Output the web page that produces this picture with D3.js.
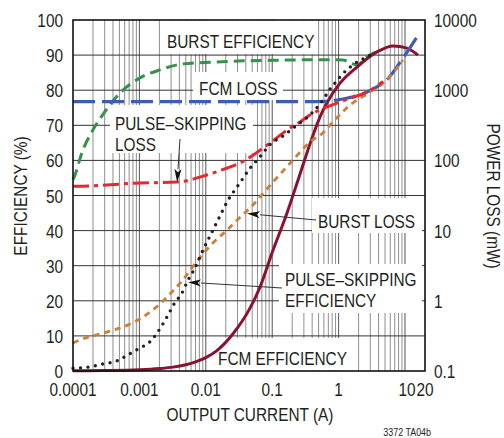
<!DOCTYPE html>
<html><head><meta charset="utf-8">
<script src="https://cdn.jsdelivr.net/npm/d3@7"></script>
<style>
html,body{margin:0;padding:0;background:#fff;}
svg text{font-family:"Liberation Sans",Arial,sans-serif;fill:#231f20;}
</style></head>
<body><svg id="c" width="504" height="438"></svg>
<script>
// ---- data ----
const xTicks = [0.0001, 0.001, 0.01, 0.1, 1, 10, 20];
const xTickLabels = ["0.0001", "0.001", "0.01", "0.1", "1", "10", "20"];
const effTicks = [0, 10, 20, 30, 40, 50, 60, 70, 80, 90, 100];
const lossTicks = [0.1, 1, 10, 100, 1000, 10000];
const lossTickLabels = ["0.1", "1", "10", "100", "1000", "10000"];

// efficiency (%) vs output current (A)
const burstEfficiency = [[1e-4,54.5],[1.07e-4,55.8],[1.35e-4,62],[2e-4,68.7],[3e-4,73.8],[5.1e-4,79.2],[1.02e-3,83.5],[2.04e-3,85.8],[4.5e-3,87.5],[0.0128,88],[0.03,88.3],[0.1,88.5],[0.5,88.7],[1.17,88.6],[1.5,87.8],[1.9,87.2],[2.68,89.5],[3.8,91]];
const psEfficiency = [[1e-4,0.8],[1.68e-4,1.1],[2.83e-4,2.0],[4.6e-4,2.9],[6.7e-4,4.6],[1.02e-3,6.55],[1.44e-3,8.3],[1.84e-3,10.8],[2.6e-3,15.4],[3.4e-3,19.4],[4.37e-3,22.2],[5.4e-3,25.9],[6.85e-3,29.3],[9.1e-3,34.5],[0.0124,39.6],[0.0175,45.3],[0.0208,48.1],[0.0327,53.6],[0.0464,57.8],[0.0654,61],[0.0925,64.5],[0.146,67],[0.262,70.7],[0.345,72.4],[0.44,74.4],[0.58,77.2],[0.73,80.1],[0.88,82],[1.05,83.8],[1.64,87.2],[2.68,89.5],[3.3,90.4]];
const fcmEfficiency = [[1e-4,0.05],[3e-4,0.12],[1e-3,0.35],[2e-3,0.7],[3.2e-3,1.1],[5e-3,1.8],[7e-3,2.6],[0.01,3.8],[0.0147,5.8],[0.0257,10.6],[0.0463,17.9],[0.0655,23.9],[0.0993,33.6],[0.167,45],[0.245,54.4],[0.398,66.4],[0.525,72.4],[0.668,76.4],[1.05,82],[1.89,86.6],[3.79,90.9],[6.6,92.6],[10.7,92],[15.7,90]];

// power loss (mW) vs output current (A)
const fcmLoss = [[1e-4,686],[0.3,686],[0.7,695],[0.94,725],[1.6,800],[2.68,942],[4,1150],[5.3,1400],[8.3,2440],[11.8,3990],[15.1,5730]];
const psLoss = [[1e-4,43],[1.15e-4,43],[1.02e-3,47.6],[3.7e-3,49.3],[0.0104,62],[0.0209,78],[0.0327,92],[0.0925,177],[0.186,290],[0.262,352],[0.37,443],[0.62,560],[1.05,680],[1.5,770],[2.68,940],[4.67,1330]];
const burstLoss = [[1e-4,0.25],[1.27e-4,0.277],[3.3e-4,0.36],[6.5e-4,0.447],[1.45e-3,0.69],[2.6e-3,1.13],[4.5e-3,1.98],[7.6e-3,3.81],[0.0128,6.66],[0.0209,10.2],[0.0305,14.5],[0.0464,21],[0.1,47.6],[0.205,101],[0.37,183],[0.58,246],[0.82,352],[1.49,615],[2.97,942],[5.3,1400],[9.3,2690]];

// ---- layout ----
const svg = d3.select("#c");
const L = 73, R = 425, T = 20, B = 371;
const x = d3.scaleLog().domain([1e-4, 20]).range([L, R]);
const yE = d3.scaleLinear().domain([0, 100]).range([B, T]);
const yP = d3.scaleLog().domain([0.1, 10000]).range([B, T]);
const FS = 19, SX = 0.81;

// condensed text helper
function txt(str, px, py, anchor, size, rot) {
  return svg.append("text")
    .attr("transform", `translate(${px},${py})` + (rot ? ` rotate(${rot})` : "") + ` scale(${SX},1)`)
    .attr("text-anchor", anchor || "start").attr("font-size", size || FS).text(str);
}

// vertical grid
const vlines = [];
for (let e = -4; e <= 1; e++) for (let m = 1; m <= 9; m++) {
  const v = m * Math.pow(10, e);
  if (v > 1e-4 * 1.0001 && v < 20 * 0.999) vlines.push({v, major: m === 1});
}
svg.append("g").selectAll("line").data(vlines).join("line")
  .attr("x1", d => x(d.v)).attr("x2", d => x(d.v)).attr("y1", T).attr("y2", B)
  .attr("stroke", d => d.major ? "#555" : "#8f8f8f").attr("stroke-width", 1);
// horizontal grid
svg.append("g").selectAll("line").data(effTicks.slice(1, -1)).join("line")
  .attr("x1", L).attr("x2", R).attr("y1", d => yE(d)).attr("y2", d => yE(d))
  .attr("stroke", "#333").attr("stroke-width", 1);

// label boxes (white, mask grid)
const boxes = [[163,21,316,54],[193,72,283,100],[110,105,253,153],[312,198,422,233],[279,264,422,313],[213,338,357,370]];
svg.append("g").selectAll("rect").data(boxes).join("rect")
  .attr("x", d => d[0]).attr("y", d => d[1]).attr("width", d => d[2]-d[0]).attr("height", d => d[3]-d[1])
  .attr("fill", "#fff");

// curves
const lineE = d3.line().x(d => x(d[0])).y(d => yE(d[1])).curve(d3.curveMonotoneX);
const lineP = d3.line().x(d => x(d[0])).y(d => yP(d[1])).curve(d3.curveMonotoneX);
const g = svg.append("g").attr("fill", "none");
g.append("path").attr("d", lineE(burstEfficiency)).attr("stroke", "#35914b").attr("stroke-width", 3).attr("stroke-dasharray", "11,6");
g.append("path").attr("d", lineE(fcmEfficiency)).attr("stroke", "#8b1131").attr("stroke-width", 3);
g.append("path").attr("d", lineP(fcmLoss)).attr("stroke", "#3d5db4").attr("stroke-width", 3.2).attr("stroke-dasharray", "22,7");
g.append("path").attr("d", lineP(burstLoss)).attr("stroke", "#c9803d").attr("stroke-width", 2.8).attr("stroke-dasharray", "6,5");
g.append("path").attr("d", lineP(psLoss)).attr("stroke", "#e8262f").attr("stroke-width", 3).attr("stroke-dasharray", "16,5,4,5");
g.append("path").attr("d", lineE(psEfficiency)).attr("stroke", "#222").attr("stroke-width", 3.4).attr("stroke-linecap", "round").attr("stroke-dasharray", "0,7.5");

// frame
svg.append("rect").attr("x", L).attr("y", T).attr("width", R-L).attr("height", B-T)
  .attr("fill", "none").attr("stroke", "#111").attr("stroke-width", 1.6);

// axes labels
effTicks.forEach(d => txt(String(d), 63, yE(d) + 7, "end"));
lossTicks.forEach((d, i) => txt(lossTickLabels[i], 434, yP(d) + 7, "start"));
xTicks.forEach((d, i) => txt(xTickLabels[i], x(d) + (i === 5 ? 2 : 0), 396, "middle"));

txt("OUTPUT CURRENT (A)", 250, 421, "middle");
txt("EFFICIENCY (%)", 27, 196, "middle", FS, -90);
txt("POWER LOSS (mW)", 487, 196, "middle", FS, 90);
txt("3372 TA04b", 431, 436, "end", 11);

// annotations
const notes = [
  {t: ["BURST EFFICIENCY"], x: 167, y: 47.5},
  {t: ["FCM LOSS"], x: 199, y: 95},
  {t: ["PULSE–SKIPPING", "LOSS"], x: 115, y: 130},
  {t: ["BURST LOSS"], x: 318, y: 228},
  {t: ["PULSE–SKIPPING", "EFFICIENCY"], x: 285, y: 285.5},
  {t: ["FCM EFFICIENCY"], x: 218, y: 365}
];
notes.forEach(n => n.t.forEach((s, i) => txt(s, n.x, n.y + i * 21, "start")));

function arrow(x0, y0, x1, y1) {
  const ang = Math.atan2(y1 - y0, x1 - x0), len = 13, hw = 3.6;
  const bx = x1 - len * Math.cos(ang), by = y1 - len * Math.sin(ang);
  svg.append("line").attr("x1", x0).attr("y1", y0).attr("x2", bx).attr("y2", by).attr("stroke", "#333").attr("stroke-width", 1);
  const p = [[x1, y1], [bx + hw * Math.sin(ang), by - hw * Math.cos(ang)], [bx + len*0.25*Math.cos(ang), by + len*0.25*Math.sin(ang)], [bx - hw * Math.sin(ang), by + hw * Math.cos(ang)]];
  svg.append("path").attr("d", "M" + p.map(q => q.join(",")).join("L") + "Z").attr("fill", "#111");
}
arrow(180, 139, x(0.0037), yP(49.3));
arrow(316, 220, x(0.0417), yP(17.5));
arrow(282, 288, x(0.0054), yE(25.3));
</script></body></html>
